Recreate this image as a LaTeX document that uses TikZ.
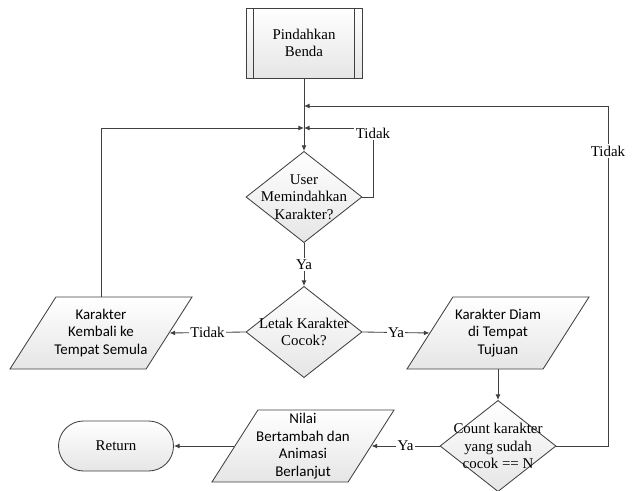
\documentclass[tikz,border=0pt]{standalone}
\usepackage{fontspec}
\setmainfont{Liberation Serif}
\newfontfamily\sansbody{Carlito}
\usetikzlibrary{shapes.geometric,shapes.misc,arrows.meta}
\definecolor{lineGray}{HTML}{404040}
\newcommand\txtsize{\fontsize{10.6}{12.4}\selectfont}

\tikzset{
  base/.style={draw=lineGray, line width=0.6pt, top color=white, bottom color=gray!20, inner sep=0pt},
  proc/.style={base, rectangle, minimum width=2.9cm, minimum height=1.75cm, align=center},
  decision/.style={base, diamond, minimum width=2.9cm, minimum height=2.28cm},
  io/.style={base, trapezium, trapezium left angle=63, trapezium right angle=117,
    trapezium stretches=true, inner sep=2pt, minimum width=4.55cm, minimum height=1.8cm},
  term/.style={base, rounded rectangle, minimum width=2.875cm, minimum height=1.25cm},
  line/.style={draw=lineGray, line width=0.6pt, -{Latex[length=4pt,width=3.5pt]}},
  lbl/.style={fill=white, inner sep=1pt},
  sanslbl/.style={align=center, font=\sansbody\txtsize},
}

\begin{document}
\begin{tikzpicture}[x=0.025cm, y=-0.025cm, font=\txtsize]
  \useasboundingbox (0,0) rectangle (636,491);

  % shapes
  \node[proc] (pb) at (304,43) {Pindahkan\\Benda};
  \draw[lineGray, line width=0.6pt] ([xshift=0.2cm]pb.north west) -- ([xshift=0.2cm]pb.south west);
  \draw[lineGray, line width=0.6pt] ([xshift=-0.2cm]pb.north east) -- ([xshift=-0.2cm]pb.south east);
  \node[decision, label={[align=center]center:User\\Memindahkan\\Karakter?}] (d1) at (304,197) {};
  \node[decision, label={[align=center]center:Letak Karakter\\Cocok?}] (d2) at (304,332) {};
  \node[io, label={[sanslbl]center:Karakter\\Kembali ke\\Tempat Semula}] (p1) at (101,333) {};
  \node[io, label={[sanslbl]center:Karakter Diam\\di Tempat\\Tujuan}] (p2) at (498,333) {};
  \node[decision, label={[align=center]center:Count karakter\\yang sudah\\cocok == N}] (d3) at (498,446) {};
  \node[io, label={[sanslbl]center:Nilai\\Bertambah dan\\Animasi\\Berlanjut}] (p3) at (303,446) {};
  \node[term] (ret) at (116,446) {Return};

  % junctions
  \coordinate (jA) at (304,106);
  \coordinate (jB) at (304,128);
  \coordinate (cA) at (373,128);
  \coordinate (cB) at (608,106);

  % connectors
  \draw[line] (pb.south) -- (d1.north);
  \draw[line] (d1.east) -| (cA) -- (jB);
  \draw[line] (p1.north) |- (jB);
  \draw[line] (d3.east) -| (cB) -- (jA);
  \draw[line] (d1.south) -- node[lbl] {Ya} (d2.north);
  \draw[line] (d2.west) -- node[lbl] {Tidak} (p1.east);
  \draw[line] (d2.east) -- node[lbl] {Ya} (p2.west);
  \draw[line] (p2.south) -- (d3.north);
  \draw[line] (d3.west) -- node[lbl] {Ya} (p3.east);
  \draw[line] (p3.west) -- (ret.east);

  % labels on the loops
  \node[lbl] (tA) at (373,133) {Tidak};
  \node[lbl] (tB) at (608,151) {Tidak};
\end{tikzpicture}
\end{document}
